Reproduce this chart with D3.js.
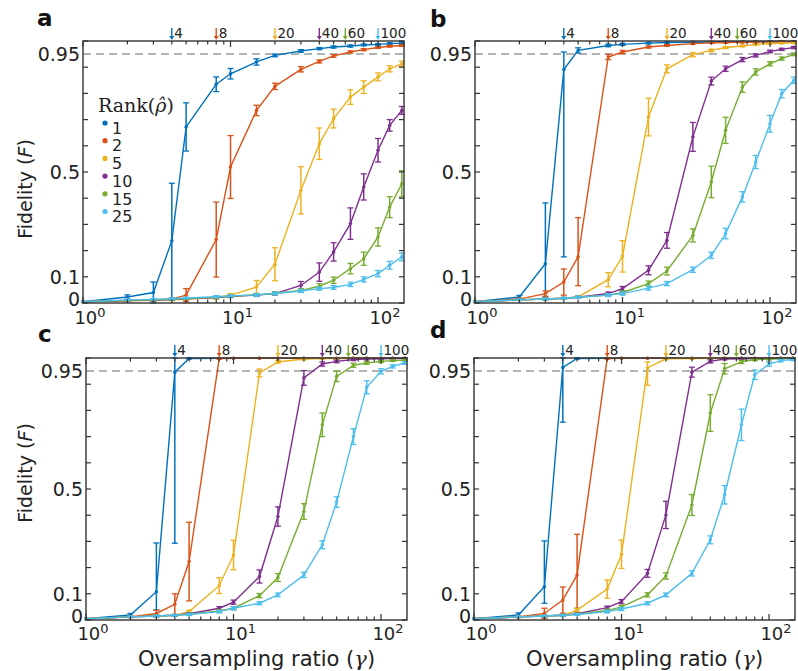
<!DOCTYPE html>
<html>
<head>
<meta charset="utf-8">
<script src="https://cdn.jsdelivr.net/npm/d3@7"></script>
<style>
body { margin: 0; background: #fff; }
text { font-family: "DejaVu Sans", sans-serif; fill: #222; }
</style>
</head>
<body>
<div id="chart"></div>
<script>
// oversampling ratios sampled
var gammas = [1, 2, 3, 4, 5, 8, 10, 15, 20, 30, 40, 50, 65, 80, 100, 120, 145];
var ranks = ["1", "2", "5", "10", "15", "25"];
var colors = ["#0072BD", "#D95319", "#EDB120", "#7E2F8E", "#77AC30", "#4DBEEE"];
var arrowGammas = [4, 8, 20, 40, 60, 100];
var yTickLabels = [0, 0.1, 0.5, 0.95];

// fidelity per rank, panel a
var fidA = [
    [0.005, 0.023, 0.04, 0.237, 0.672, 0.835, 0.875, 0.92, 0.945, 0.962, 0.971, 0.977, 0.981, 0.985, 0.987, 0.99, 0.992],
    [0.005, 0.01, 0.012, 0.015, 0.03, 0.242, 0.519, 0.735, 0.827, 0.892, 0.922, 0.943, 0.958, 0.967, 0.975, 0.98, 0.983],
    [0.005, 0.008, 0.01, 0.012, 0.015, 0.02, 0.03, 0.061, 0.148, 0.43, 0.608, 0.704, 0.786, 0.824, 0.863, 0.894, 0.913],
    [0.005, 0.009, 0.011, 0.013, 0.016, 0.021, 0.025, 0.03, 0.036, 0.067, 0.118, 0.195, 0.303, 0.443, 0.583, 0.678, 0.735],
    [0.005, 0.01, 0.012, 0.014, 0.017, 0.022, 0.026, 0.031, 0.037, 0.048, 0.064, 0.087, 0.131, 0.169, 0.252, 0.366, 0.455],
    [0.005, 0.012, 0.014, 0.016, 0.019, 0.024, 0.027, 0.031, 0.036, 0.046, 0.055, 0.059, 0.071, 0.09, 0.112, 0.144, 0.176]
];
var errA = [
    [0, 0.008, 0.04, 0.22, 0.092, 0.028, 0.02, 0.012, 0.005, 0.005, 0.004, 0.004, 0.004, 0.003, 0.003, 0.003, 0.003],
    [0, 0.003, 0.004, 0.005, 0.025, 0.143, 0.12, 0.02, 0.012, 0.01, 0.006, 0.005, 0.004, 0.004, 0.003, 0.003, 0.003],
    [0, 0.002, 0.003, 0.003, 0.004, 0.005, 0.006, 0.025, 0.063, 0.09, 0.06, 0.036, 0.028, 0.024, 0.015, 0.012, 0.01],
    [0, 0.002, 0.003, 0.003, 0.003, 0.004, 0.004, 0.005, 0.006, 0.015, 0.035, 0.035, 0.06, 0.05, 0.045, 0.022, 0.015],
    [0, 0.002, 0.003, 0.003, 0.003, 0.004, 0.004, 0.005, 0.006, 0.007, 0.01, 0.012, 0.02, 0.025, 0.035, 0.04, 0.05],
    [0, 0.003, 0.003, 0.003, 0.003, 0.004, 0.004, 0.005, 0.005, 0.006, 0.006, 0.007, 0.008, 0.01, 0.012, 0.015, 0.015]
];

// panel b
var fidB = [
    [0.005, 0.023, 0.15, 0.891, 0.964, 0.983, 0.987, 0.992, 0.994, 0.995, 0.996, 0.997, 0.997, 0.998, 0.998, 0.998, 0.998],
    [0.005, 0.015, 0.036, 0.08, 0.176, 0.939, 0.958, 0.977, 0.983, 0.99, 0.993, 0.994, 0.995, 0.996, 0.996, 0.997, 0.997],
    [0.005, 0.012, 0.015, 0.018, 0.023, 0.089, 0.178, 0.71, 0.894, 0.948, 0.964, 0.975, 0.981, 0.987, 0.99, 0.992, 0.993],
    [0.005, 0.012, 0.015, 0.018, 0.022, 0.036, 0.055, 0.125, 0.239, 0.634, 0.847, 0.894, 0.929, 0.945, 0.96, 0.968, 0.975],
    [0.005, 0.012, 0.015, 0.018, 0.022, 0.03, 0.04, 0.074, 0.122, 0.258, 0.462, 0.659, 0.824, 0.882, 0.913, 0.933, 0.949],
    [0.005, 0.012, 0.015, 0.018, 0.022, 0.03, 0.036, 0.057, 0.074, 0.127, 0.182, 0.265, 0.405, 0.538, 0.684, 0.799, 0.85]
];
var errB = [
    [0, 0.006, [0.127, 0.232], [0.715, 0.067], 0.01, 0.005, 0.004, 0.003, 0.002, 0.002, 0.002, 0.002, 0.002, 0.002, 0.002, 0.002, 0.002],
    [0, 0.003, 0.01, 0.05, [0.11, 0.15], 0.01, 0.006, 0.004, 0.003, 0.002, 0.002, 0.002, 0.002, 0.002, 0.002, 0.002, 0.002],
    [0, 0.002, 0.003, 0.003, 0.005, 0.027, 0.06, 0.072, 0.015, 0.008, 0.005, 0.004, 0.003, 0.003, 0.002, 0.002, 0.002],
    [0, 0.002, 0.003, 0.003, 0.004, 0.006, 0.008, 0.017, 0.03, 0.055, 0.015, 0.01, 0.008, 0.006, 0.005, 0.004, 0.004],
    [0, 0.002, 0.003, 0.003, 0.004, 0.005, 0.006, 0.01, 0.015, 0.025, 0.06, 0.05, 0.02, 0.012, 0.008, 0.006, 0.005],
    [0, 0.002, 0.003, 0.003, 0.004, 0.005, 0.006, 0.008, 0.008, 0.01, 0.012, 0.02, 0.02, 0.025, 0.032, 0.016, 0.012]
];

// panel c
var fidC = [
    [0.005, 0.019, 0.108, 0.946, 0.998, 0.999, 0.999, 0.999, 0.999, 0.999, 0.999, 0.999, 0.999, 0.999, 0.999, 0.999, 0.999],
    [0.005, 0.012, 0.025, 0.06, 0.223, 0.998, 0.999, 0.999, 0.999, 0.999, 0.999, 0.999, 0.999, 0.999, 0.999, 0.999, 0.999],
    [0.005, 0.012, 0.015, 0.018, 0.032, 0.131, 0.248, 0.943, 0.985, 0.996, 0.998, 0.998, 0.999, 0.999, 0.999, 0.999, 0.999],
    [0.005, 0.012, 0.015, 0.018, 0.024, 0.045, 0.068, 0.166, 0.395, 0.924, 0.977, 0.987, 0.994, 0.996, 0.997, 0.998, 0.998],
    [0.005, 0.012, 0.015, 0.018, 0.022, 0.035, 0.045, 0.093, 0.162, 0.414, 0.745, 0.93, 0.972, 0.981, 0.987, 0.99, 0.992],
    [0.005, 0.012, 0.015, 0.018, 0.021, 0.032, 0.045, 0.064, 0.096, 0.172, 0.287, 0.45, 0.70, 0.888, 0.949, 0.968, 0.981]
];
var errC = [
    [0, 0.006, [0.07, 0.186], [0.653, 0.054], 0.002, 0, 0, 0, 0, 0, 0, 0, 0, 0, 0, 0, 0],
    [0, 0.003, 0.012, 0.04, 0.15, 0.002, 0, 0, 0, 0, 0, 0, 0, 0, 0, 0, 0],
    [0, 0.002, 0.003, 0.003, 0.006, 0.03, 0.056, 0.015, 0.005, 0.003, 0.002, 0.002, 0.001, 0.001, 0.001, 0.001, 0.001],
    [0, 0.002, 0.003, 0.003, 0.004, 0.006, 0.008, 0.025, 0.037, 0.028, 0.008, 0.005, 0.004, 0.003, 0.002, 0.002, 0.002],
    [0, 0.002, 0.003, 0.003, 0.004, 0.005, 0.006, 0.008, 0.015, 0.03, 0.045, 0.02, 0.008, 0.005, 0.004, 0.003, 0.003],
    [0, 0.002, 0.003, 0.003, 0.004, 0.005, 0.006, 0.006, 0.007, 0.01, 0.015, 0.02, 0.03, 0.025, 0.01, 0.006, 0.005]
];

// panel d
var fidD = [
    [0.005, 0.019, 0.127, 0.964, 0.998, 0.999, 0.999, 0.999, 0.999, 0.999, 0.999, 0.999, 0.999, 0.999, 0.999, 0.999, 0.999],
    [0.005, 0.012, 0.025, 0.076, 0.172, 0.998, 0.999, 0.999, 0.999, 0.999, 0.999, 0.999, 0.999, 0.999, 0.999, 0.999, 0.999],
    [0.005, 0.012, 0.015, 0.018, 0.038, 0.118, 0.251, 0.962, 0.997, 0.998, 0.999, 0.999, 0.999, 0.999, 0.999, 0.999, 0.999],
    [0.005, 0.012, 0.015, 0.018, 0.024, 0.047, 0.07, 0.178, 0.401, 0.946, 0.987, 0.996, 0.997, 0.998, 0.998, 0.999, 0.999],
    [0.005, 0.012, 0.015, 0.018, 0.022, 0.036, 0.05, 0.096, 0.168, 0.439, 0.79, 0.959, 0.985, 0.994, 0.996, 0.997, 0.998],
    [0.005, 0.012, 0.015, 0.018, 0.021, 0.032, 0.042, 0.064, 0.096, 0.178, 0.306, 0.478, 0.745, 0.936, 0.977, 0.99, 0.994]
];
var errD = [
    [0, 0.008, [0.063, 0.175], [0.209, 0.036], 0.002, 0, 0, 0, 0, 0, 0, 0, 0, 0, 0, 0, 0],
    [0, 0.003, 0.02, 0.05, [0.127, 0.155], 0.002, 0, 0, 0, 0, 0, 0, 0, 0, 0, 0, 0],
    [0, 0.002, 0.003, 0.003, 0.006, 0.035, 0.054, [0.066, 0.023], 0.003, 0.002, 0.001, 0.001, 0.001, 0.001, 0.001, 0.001, 0.001],
    [0, 0.002, 0.003, 0.003, 0.004, 0.006, 0.008, 0.015, 0.052, 0.019, 0.006, 0.003, 0.002, 0.002, 0.002, 0.001, 0.001],
    [0, 0.002, 0.003, 0.003, 0.004, 0.005, 0.006, 0.008, 0.012, 0.04, 0.07, 0.02, 0.006, 0.004, 0.003, 0.003, 0.002],
    [0, 0.002, 0.003, 0.003, 0.004, 0.005, 0.006, 0.006, 0.007, 0.01, 0.015, 0.035, 0.06, 0.018, 0.008, 0.005, 0.004]
];

var width = 798, height = 671;
var axisColor = "#333";

var svg = d3.select("#chart").append("svg")
    .attr("width", width)
    .attr("height", height);

var panels = [
    { id: "a", fid: fidA, err: errA, left: 83, right: 404, top: 41, bottom: 303, lx: 37, ly: 26, tickOff: 21, ylab: true, xlab: false, legend: true, ylabY: 189 },
    { id: "b", fid: fidB, err: errB, left: 475, right: 796, top: 41, bottom: 303, lx: 430, ly: 27, tickOff: 21, ylab: false, xlab: false, legend: false },
    { id: "c", fid: fidC, err: errC, left: 86, right: 407, top: 358, bottom: 620, lx: 38, ly: 342, tickOff: 20, ylab: true, xlab: true, legend: false, ylabY: 473 },
    { id: "d", fid: fidD, err: errD, left: 474, right: 795, top: 358, bottom: 620, lx: 430, ly: 338, tickOff: 20, ylab: false, xlab: true, legend: false }
];

panels.forEach(drawPanel);

function drawPanel(p) {
    var x = d3.scaleLog().domain([1, 150]).range([p.left, p.right]);
    var y = d3.scaleLinear().domain([0, 1]).range([p.bottom, p.top]);
    var g = svg.append("g");

    // dashed threshold line
    g.append("line")
        .attr("x1", p.left).attr("x2", p.right)
        .attr("y1", y(0.95)).attr("y2", y(0.95))
        .attr("stroke", "#9a9a9a")
        .attr("stroke-width", 1.5)
        .attr("stroke-dasharray", "8,5");

    // series
    var line = d3.line()
        .x(function(d) { return x(d.g); })
        .y(function(d) { return y(d.f); });

    p.fid.forEach(function(vals, i) {
        var pts = gammas.map(function(gm, j) {
            var e = p.err[i][j];
            var lo = Array.isArray(e) ? e[0] : e;
            var hi = Array.isArray(e) ? e[1] : e;
            return { g: gm, f: vals[j], lo: lo, hi: hi };
        });
        var s = g.append("g").attr("stroke", colors[i]).attr("fill", colors[i]);

        s.append("path")
            .datum(pts)
            .attr("d", line)
            .attr("fill", "none")
            .attr("stroke-width", 1.4);

        var eb = s.selectAll(".eb").data(pts.filter(function(d) { return d.lo + d.hi > 0; }))
            .enter().append("g");
        eb.append("line")
            .attr("x1", function(d) { return x(d.g); })
            .attr("x2", function(d) { return x(d.g); })
            .attr("y1", function(d) { return y(Math.min(1, d.f + d.hi)); })
            .attr("y2", function(d) { return y(Math.max(0, d.f - d.lo)); })
            .attr("stroke-width", 1.5);
        eb.append("line")
            .attr("x1", function(d) { return x(d.g) - 3; })
            .attr("x2", function(d) { return x(d.g) + 3; })
            .attr("y1", function(d) { return y(Math.min(1, d.f + d.hi)); })
            .attr("y2", function(d) { return y(Math.min(1, d.f + d.hi)); })
            .attr("stroke-width", 1.3);
        eb.append("line")
            .attr("x1", function(d) { return x(d.g) - 3; })
            .attr("x2", function(d) { return x(d.g) + 3; })
            .attr("y1", function(d) { return y(Math.max(0, d.f - d.lo)); })
            .attr("y2", function(d) { return y(Math.max(0, d.f - d.lo)); })
            .attr("stroke-width", 1.3);

        s.selectAll("circle").data(pts).enter().append("circle")
            .attr("cx", function(d) { return x(d.g); })
            .attr("cy", function(d) { return y(d.f); })
            .attr("r", 1.8)
            .attr("stroke", "none");
    });

    // ticks (inward, all four sides)
    var yTicks = d3.range(0, 11).map(function(k) { return k / 10; });
    var ax = g.append("g").attr("stroke", axisColor).attr("stroke-width", 1.2);
    yTicks.forEach(function(t) {
        ax.append("line").attr("x1", p.left).attr("x2", p.left + 5).attr("y1", y(t)).attr("y2", y(t));
        ax.append("line").attr("x1", p.right - 5).attr("x2", p.right).attr("y1", y(t)).attr("y2", y(t));
    });
    var xTicks = x.ticks().filter(function(t) { return t <= 150; });
    xTicks.forEach(function(t) {
        var major = Math.abs(Math.log10(t) - Math.round(Math.log10(t))) < 1e-9;
        var len = major ? 6 : 3.5;
        ax.append("line").attr("x1", x(t)).attr("x2", x(t)).attr("y1", p.bottom).attr("y2", p.bottom - len);
        ax.append("line").attr("x1", x(t)).attr("x2", x(t)).attr("y1", p.top).attr("y2", p.top + len);
    });

    // frame
    g.append("rect")
        .attr("x", p.left).attr("y", p.top)
        .attr("width", p.right - p.left).attr("height", p.bottom - p.top)
        .attr("fill", "none")
        .attr("stroke", axisColor)
        .attr("stroke-width", 1.4);

    // y tick labels
    g.selectAll(".ytl").data(yTickLabels).enter().append("text")
        .attr("x", p.left - 3)
        .attr("y", function(d) { return d === 0 ? y(d) - 4 : y(d); })
        .attr("dy", "0.36em")
        .attr("text-anchor", "end")
        .style("font-size", "19px")
        .text(function(d) { return d === 0 ? "0" : String(d); });

    // x tick labels 10^k
    [1, 10, 100].forEach(function(t, k) {
        var tx = g.append("text")
            .attr("x", x(t) + 7)
            .attr("y", p.bottom + p.tickOff)
            .attr("text-anchor", "middle")
            .style("font-size", "18px");
        tx.append("tspan").text("10");
        tx.append("tspan").attr("dy", -7).style("font-size", "13px").text(String(k));
    });

    // arrows above the frame
    arrowGammas.forEach(function(gm, i) {
        var ax0 = x(gm);
        g.append("line")
            .attr("x1", ax0).attr("x2", ax0)
            .attr("y1", p.top - 13).attr("y2", p.top - 4)
            .attr("stroke", colors[i])
            .attr("stroke-width", 1.4);
        g.append("path")
            .attr("d", "M" + (ax0 - 2.5) + "," + (p.top - 5) + "L" + (ax0 + 2.5) + "," + (p.top - 5) + "L" + ax0 + "," + (p.top - 1) + "Z")
            .attr("fill", colors[i]);
        g.append("text")
            .attr("x", ax0 + 2.5)
            .attr("y", p.top - 3)
            .style("font-size", "13.5px")
            .text(gm);
    });

    // panel letter
    g.append("text")
        .attr("x", p.lx)
        .attr("y", p.ly)
        .style("font-size", "23px")
        .style("font-weight", "bold")
        .style("fill", "#111")
        .text(p.id);

    if (p.ylab) {
        var yl = g.append("text")
            .attr("transform", "translate(32," + p.ylabY + ") rotate(-90)")
            .attr("text-anchor", "middle")
            .style("font-size", "19px");
        yl.append("tspan").text("Fidelity (");
        yl.append("tspan").style("font-style", "italic").text("F");
        yl.append("tspan").text(")");
    }

    if (p.xlab) {
        var xl = g.append("text")
            .attr("x", (p.left + p.right) / 2 + 10)
            .attr("y", 666)
            .attr("text-anchor", "middle")
            .style("font-size", "21px");
        xl.append("tspan").text("Oversampling ratio (");
        xl.append("tspan").style("font-style", "italic").style("font-family", "DejaVu Serif").text("\u03B3");
        xl.append("tspan").text(")");
    }

    if (p.legend) {
        var lg = g.append("g");
        var title = lg.append("text")
            .attr("x", 98).attr("y", 112)
            .style("font-family", "'DejaVu Serif', serif")
            .style("font-size", "19px");
        title.append("tspan").text("Rank(");
        title.append("tspan").style("font-style", "italic").text("\u03C1\u0302");
        title.append("tspan").text(")");
        ranks.forEach(function(r, i) {
            var cy = 128 + i * 17.7;
            lg.append("circle").attr("cx", 105).attr("cy", cy - 5).attr("r", 2.6).attr("fill", colors[i]);
            lg.append("text")
                .attr("x", 112).attr("y", cy)
                .attr("dy", "0.36em")
                .style("font-size", "16px")
                .text(r);
        });
    }
}
</script>
</body>
</html>
